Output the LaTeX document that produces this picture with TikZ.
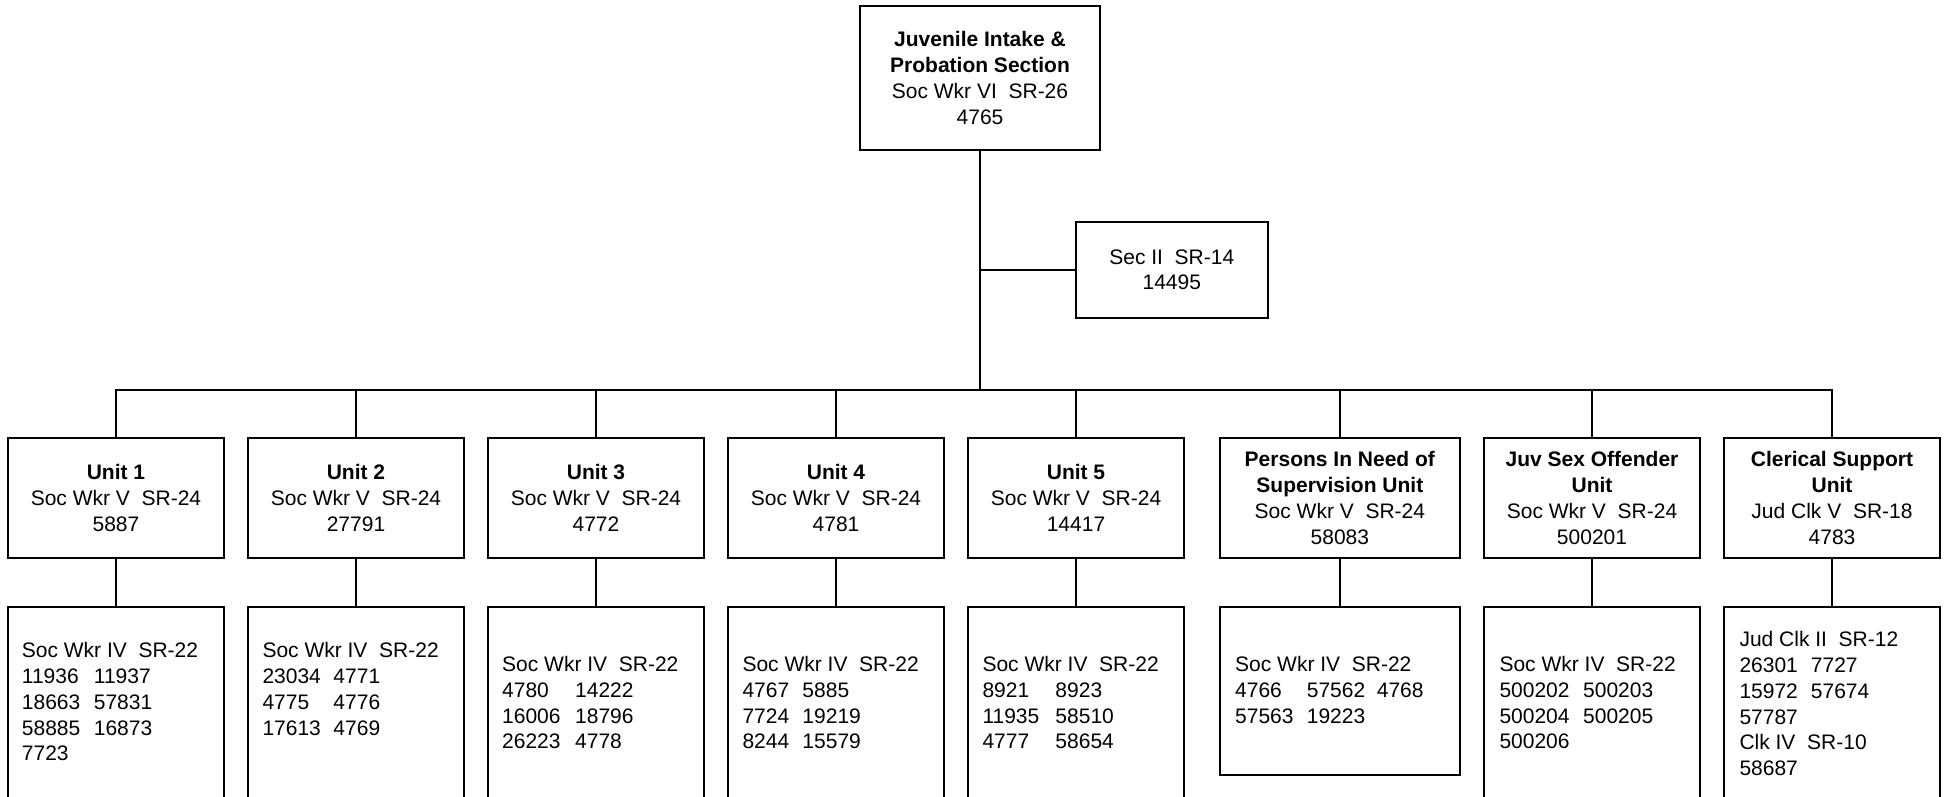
\documentclass[tikz,border=0pt]{standalone}
\usepackage{fontspec}
\setmainfont{Liberation Sans}
\newcommand\dfont{\fontsize{21pt}{25.8pt}\selectfont}
\newcommand\cw[2]{\makebox[#1pt][l]{#2}}
\begin{document}
\begin{tikzpicture}[x=1pt,y=-1pt,
  box/.style={draw,line width=2pt,inner sep=0pt,align=center,font=\dfont},
  ubox/.style={box,minimum width=216.3pt,minimum height=119.7pt},
  lbox/.style={draw,line width=2pt,inner sep=0pt,minimum width=216.3pt,minimum height=200pt,anchor=north},
  txt/.style={inner sep=0pt,align=left,font=\dfont,anchor=base west},
  conn/.style={line width=2pt,line join=miter}]
\useasboundingbox (0,0) rectangle (1944,796);
\fill[white] (0,0) rectangle (1944,796);
\clip (0,0) rectangle (1944,796);
\coordinate (bus) at (0,390);
% top and secretary
\node[box,minimum width=240pt,minimum height=144pt] (top) at (980,78)
  {\textbf{Juvenile Intake \&}\\\textbf{Probation Section}\\Soc Wkr VI\ \ SR-26\\4765};
\node[box,minimum width=192.3pt,minimum height=96pt] (sec) at (1171.8,269.7)
  {Sec II\ \ SR-14\\14495};
% units
\node[ubox] (u1) at (116,497.85) {\textbf{Unit 1}\\Soc Wkr V\ \ SR-24\\5887};
\node[ubox] (u2) at (356,497.85) {\textbf{Unit 2}\\Soc Wkr V\ \ SR-24\\27791};
\node[ubox] (u3) at (596,497.85) {\textbf{Unit 3}\\Soc Wkr V\ \ SR-24\\4772};
\node[ubox] (u4) at (836,497.85) {\textbf{Unit 4}\\Soc Wkr V\ \ SR-24\\4781};
\node[ubox] (u5) at (1076,497.85) {\textbf{Unit 5}\\Soc Wkr V\ \ SR-24\\14417};
\node[ubox,minimum width=240.3pt] (u6) at (1339.85,497.85)
  {\textbf{Persons In Need of}\\\textbf{Supervision Unit}\\Soc Wkr V\ \ SR-24\\58083};
\node[ubox] (u7) at (1592,497.85) {\textbf{Juv Sex Offender}\\\textbf{Unit}\\Soc Wkr V\ \ SR-24\\500201};
\node[ubox] (u8) at (1832,497.85) {\textbf{Clerical Support}\\\textbf{Unit}\\Jud Clk V\ \ SR-18\\4783};
% lower boxes
\node[lbox] (l1) at (116,606) {};
\node[lbox] (l2) at (356,606) {};
\node[lbox] (l3) at (596,606) {};
\node[lbox] (l4) at (836,606) {};
\node[lbox] (l5) at (1076,606) {};
\node[lbox,minimum width=240.3pt,minimum height=168pt] (l6) at (1339.85,606) {};
\node[lbox] (l7) at (1592,606) {};
\node[lbox] (l8) at (1832,606) {};
% lower texts (anchored at the baseline of the last line)
\node[txt] (t1) at (21.7,760.9) {Soc Wkr IV\ \ SR-22\\\cw{72}{11936}11937\\\cw{72}{18663}57831\\\cw{72}{58885}16873\\7723};
\node[txt] (t2) at (262.3,735.1) {Soc Wkr IV\ \ SR-22\\\cw{71}{23034}4771\\\cw{71}{4775}4776\\\cw{71}{17613}4769};
\node[txt] (t3) at (502,748.9) {Soc Wkr IV\ \ SR-22\\\cw{73}{4780}14222\\\cw{73}{16006}18796\\\cw{73}{26223}4778};
\node[txt] (t4) at (742.3,748.9) {Soc Wkr IV\ \ SR-22\\\cw{60}{4767}5885\\\cw{60}{7724}19219\\\cw{60}{8244}15579};
\node[txt] (t5) at (982.3,748.9) {Soc Wkr IV\ \ SR-22\\\cw{73}{8921}8923\\\cw{73}{11935}58510\\\cw{73}{4777}58654};
\node[txt] (t6) at (1235,723.1) {Soc Wkr IV\ \ SR-22\\\cw{71.7}{4766}\cw{70}{57562}4768\\\cw{71.7}{57563}19223};
\node[txt] (t7) at (1499.3,748.9) {Soc Wkr IV\ \ SR-22\\\cw{83.7}{500202}500203\\\cw{83.7}{500204}500205\\500206};
\node[txt] (t8) at (1739.3,775.7) {Jud Clk II\ \ SR-12\\\cw{71.4}{26301}7727\\\cw{71.4}{15972}57674\\57787\\Clk IV\ \ SR-10\\58687};
% connectors
\draw[conn] (top.south) -- (top.south |- bus);
\draw[conn] (sec.west) -- (sec.west -| top.south);
\draw[conn] (u1.north) -- (u1.north |- bus) -- (u8.north |- bus) -- (u8.north);
\foreach \i in {2,...,7} {\draw[conn] (u\i.north) -- (u\i.north |- bus);}
\foreach \i in {1,...,8} {\draw[conn] (u\i.south) -- (l\i.north);}
\end{tikzpicture}
\end{document}
